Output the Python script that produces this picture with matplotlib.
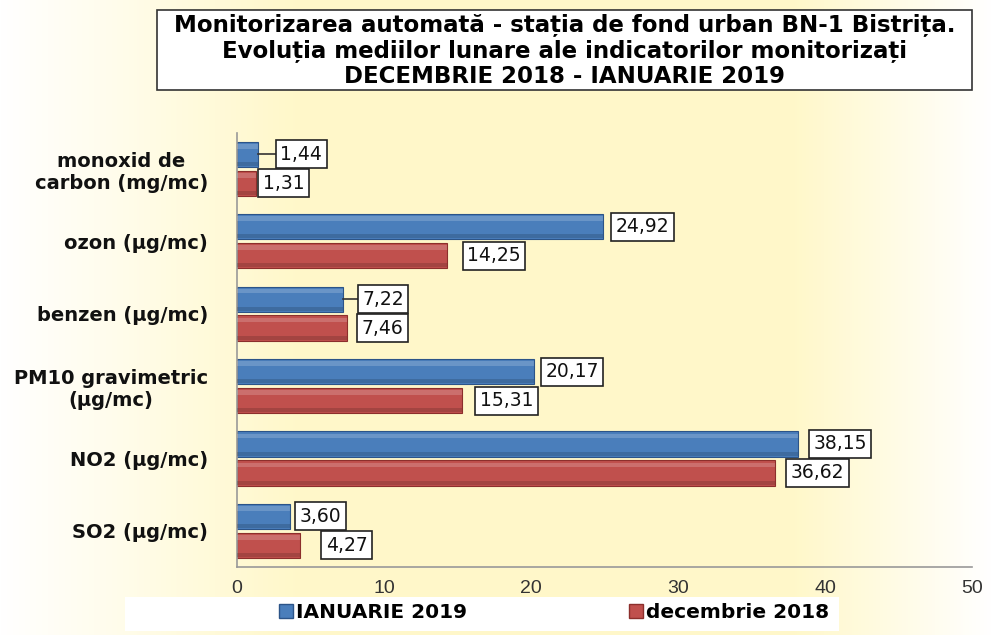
import matplotlib
matplotlib.use("Agg")
import matplotlib.pyplot as plt
from matplotlib.patches import Rectangle
from matplotlib.lines import Line2D
import numpy as np

# data
categories = ["monoxid de\ncarbon (mg/mc)", "ozon (µg/mc)", "benzen (µg/mc)",
              "PM10 gravimetric\n(µg/mc)", "NO2 (µg/mc)", "SO2 (µg/mc)"]
ian_2019 = [1.44, 24.92, 7.22, 20.17, 38.15, 3.60]
dec_2018 = [1.31, 14.25, 7.46, 15.31, 36.62, 4.27]
series_names = ["IANUARIE 2019", "decembrie 2018"]
title_lines = ["Monitorizarea automată - stația de fond urban BN-1 Bistrița.",
               "Evoluția mediilor lunare ale indicatorilor monitorizați",
               "DECEMBRIE 2018 - IANUARIE 2019"]

plt.rcParams["font.family"] = ["DejaVu Sans"]

BLUE = "#4A7EBB"
BLUE_DARK = "#2C5488"
RED = "#C0504D"
RED_DARK = "#8C2F2C"

fig = plt.figure(figsize=(9.92, 6.35), dpi=100)

# background gradient (white -> pale yellow -> white)
bg = fig.add_axes([0, 0, 1, 1], zorder=-10)
xs = np.linspace(0, 1, 400)
stops_x = [0.0, 0.12, 0.3, 0.8, 1.0]
c_white = np.array([1.0, 1.0, 1.0])
c_yel = np.array([1.0, 0.972, 0.79])
c_mid = np.array([1.0, 0.99, 0.92])
cols = [c_white, c_mid, c_yel, c_yel, c_white]
grad = np.zeros((1, len(xs), 3))
for k in range(3):
    grad[0, :, k] = np.interp(xs, stops_x, [c[k] for c in cols])
bg.imshow(grad, aspect="auto", extent=[0, 1, 0, 1])
bg.axis("off")

ax = fig.add_axes([0.239, 0.107, 0.741, 0.684])
ax.set_facecolor("none")

y = np.arange(len(categories))
h = 0.35
off = 0.2

def draw_bars(vals, ypos, color, dark):
    ax.barh(ypos, vals, height=h, color=color, edgecolor=dark, linewidth=0.8, zorder=2)
    # bevel highlight / shade
    ax.barh(ypos - h * 0.32, vals, height=h * 0.18, color="white", alpha=0.18,
            linewidth=0, zorder=3)
    ax.barh(ypos + h * 0.38, vals, height=h * 0.16, color="black", alpha=0.15,
            linewidth=0, zorder=3)

draw_bars(ian_2019, y - off, BLUE, BLUE_DARK)
draw_bars(dec_2018, y + off, RED, RED_DARK)

# value labels
def fmt(v):
    return f"{v:.2f}".replace(".", ",")

label_pad_ian = [1.5, 0.85, 1.3, 0.8, 1.05, 0.65]
label_pad_dec = [0.45, 1.4, 1.0, 1.2, 1.05, 1.75]
leader_ian = [True, False, True, False, False, False]
for vals, pads, leads, ypos in ((ian_2019, label_pad_ian, leader_ian, y - off),
                                (dec_2018, label_pad_dec, [False] * 6, y + off)):
    for v, p, ld, yy in zip(vals, pads, leads, ypos):
        if ld:
            ax.plot([v, v + p - 0.3], [yy, yy], color="#333333", lw=1.2, zorder=4)
        ax.text(v + p, yy, fmt(v), ha="left", va="center", fontsize=13.5, color="#111111",
                zorder=5,
                bbox=dict(boxstyle="square,pad=0.24", fc="white", ec="#222222", lw=1.2))

ax.set_xlim(0, 50)
ax.set_ylim(len(categories) - 0.5, -0.5)
ax.set_xticks(np.arange(0, 51, 10))
ax.set_yticks(y)
ax.set_yticklabels(categories, fontsize=14, fontweight="bold", ha="right",
                   multialignment="center", color="#111111")
ax.tick_params(axis="y", length=0, pad=21)
ax.tick_params(axis="x", length=0, pad=9)
for lbl in ax.get_xticklabels():
    lbl.set_fontfamily(["Liberation Sans", "DejaVu Sans"])
    lbl.set_fontsize(14)
    lbl.set_color("#333333")
for s in ("top", "right"):
    ax.spines[s].set_visible(False)
for s in ("left", "bottom"):
    ax.spines[s].set_color("#999999")
    ax.spines[s].set_linewidth(1.2)

# title box
fig.patches.append(Rectangle((0.158, 0.858), 0.822, 0.126, transform=fig.transFigure,
                             facecolor="white", edgecolor="#333333", lw=1.2, zorder=1))
fig.text(0.569, 0.921, "\n".join(title_lines), ha="center", va="center", fontsize=16.5,
         fontweight="bold", linespacing=1.17, zorder=2)

# legend strip
fig.patches.append(Rectangle((0.126, 0.006), 0.72, 0.054, transform=fig.transFigure,
                             facecolor="white", edgecolor="none", zorder=1))
legend_x = [0.280, 0.633]
for name, col, dark, lx in zip(series_names, (BLUE, RED), (BLUE_DARK, RED_DARK), legend_x):
    hnd = Line2D([], [], marker="s", ls="none", color=col, markersize=10,
                 markeredgecolor=dark)
    fig.legend([hnd], [name], loc="center left", bbox_to_anchor=(lx, 0.035),
               frameon=False, prop=dict(size=14.5, weight="bold"), handletextpad=0.1,
               handlelength=0.8, borderpad=0, borderaxespad=0)

fig.savefig("out.png", dpi=100)
